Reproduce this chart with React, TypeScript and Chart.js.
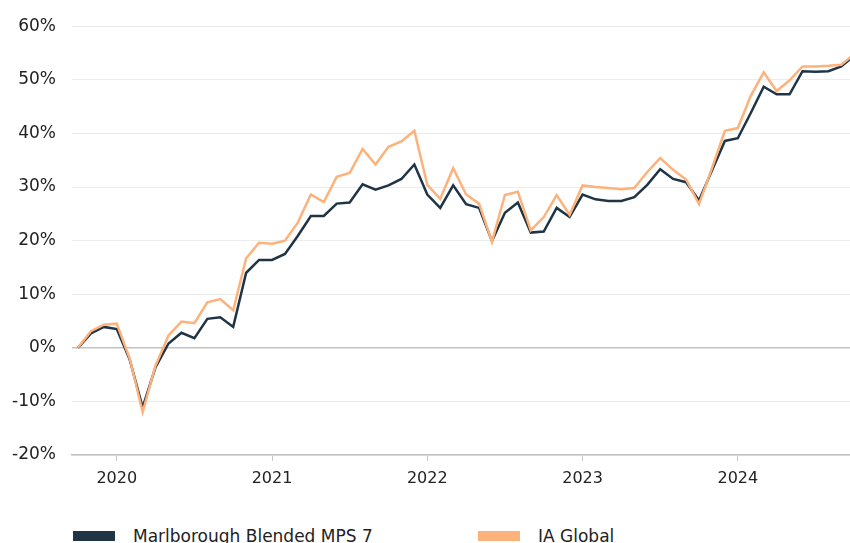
import React, { useEffect, useRef } from "react";
import { Chart, registerables } from "chart.js";

Chart.register(...registerables);

const months: string[] = [
  "2019-10", "2019-11", "2019-12",
  "2020-01", "2020-02", "2020-03", "2020-04", "2020-05", "2020-06", "2020-07", "2020-08", "2020-09", "2020-10", "2020-11", "2020-12",
  "2021-01", "2021-02", "2021-03", "2021-04", "2021-05", "2021-06", "2021-07", "2021-08", "2021-09", "2021-10", "2021-11", "2021-12",
  "2022-01", "2022-02", "2022-03", "2022-04", "2022-05", "2022-06", "2022-07", "2022-08", "2022-09", "2022-10", "2022-11", "2022-12",
  "2023-01", "2023-02", "2023-03", "2023-04", "2023-05", "2023-06", "2023-07", "2023-08", "2023-09", "2023-10", "2023-11", "2023-12",
  "2024-01", "2024-02", "2024-03", "2024-04", "2024-05", "2024-06", "2024-07", "2024-08", "2024-09", "2024-10",
];

const marlborough: number[] = [
  0, 2.7, 3.9, 3.5, -2.2, -11.1, -3.6, 0.8, 2.8, 1.8, 5.4, 5.7, 3.9, 14.0,
  16.4, 16.4, 17.5, 20.9, 24.6, 24.6, 26.9, 27.1, 30.5, 29.5, 30.3, 31.5, 34.2,
  28.6, 26.1, 30.3, 26.8, 26.1, 19.9, 25.2, 27.1, 21.5, 21.7, 26.1, 24.4,
  28.6, 27.7, 27.4, 27.4, 28.1, 30.4, 33.3, 31.5, 30.9, 27.5, 33.1, 38.6,
  39.1, 43.8, 48.7, 47.3, 47.3, 51.6, 51.5, 51.6, 52.5, 54.5,
];

const iaGlobal: number[] = [
  0, 3.1, 4.3, 4.5, -2.0, -12.0, -3.3, 2.3, 4.9, 4.6, 8.5, 9.1, 7.0, 16.7,
  19.6, 19.4, 20.0, 23.4, 28.6, 27.2, 31.9, 32.6, 37.1, 34.2, 37.5, 38.5, 40.5,
  30.4, 27.8, 33.5, 28.6, 26.9, 19.8, 28.5, 29.1, 21.9, 24.4, 28.5, 24.8,
  30.3, 30.0, 29.8, 29.6, 29.8, 32.8, 35.4, 33.2, 31.4, 26.8, 33.5, 40.5,
  41.0, 47.0, 51.4, 47.9, 49.9, 52.5, 52.5, 52.6, 52.8, 54.8,
];

const seriesNames = ["Marlborough Blended MPS 7", "IA Global"];
const seriesColors = ["#1f3546", "#fdb27c"];
const yTicks = [-20, -10, 0, 10, 20, 30, 40, 50, 60];

const FONT = "'DejaVu Sans', Verdana, sans-serif";

export default function App() {
  const ref = useRef<HTMLCanvasElement | null>(null);

  useEffect(() => {
    if (!ref.current) return;
    const toPoints = (vals: number[]) => vals.map((v, i) => ({ x: i, y: v }));
    const chart = new Chart(ref.current, {
      type: "line",
      data: {
        datasets: [
          {
            label: seriesNames[1],
            data: toPoints(iaGlobal),
            borderColor: seriesColors[1],
            backgroundColor: seriesColors[1],
            borderWidth: 2.5,
            pointRadius: 0,
            tension: 0,
          },
          {
            label: seriesNames[0],
            data: toPoints(marlborough),
            borderColor: seriesColors[0],
            backgroundColor: seriesColors[0],
            borderWidth: 2.5,
            pointRadius: 0,
            tension: 0,
          },
        ],
      },
      options: {
        animation: false,
        responsive: false,
        maintainAspectRatio: false,
        layout: { padding: { top: 23, right: 0, left: 0, bottom: 0 } },
        plugins: { legend: { display: false }, tooltip: { enabled: false } },
        scales: {
          x: {
            type: "linear",
            min: -0.46,
            max: 59.67,
            afterBuildTicks: (scale: any) => {
              scale.ticks = months
                .map((m, i) => ({ m, i }))
                .filter((o) => o.m.endsWith("-01"))
                .map((o) => ({ value: o.i }));
            },
            afterFit: (scale: any) => {
              scale.height = 45;
            },
            ticks: {
              autoSkip: false,
              maxRotation: 0,
              padding: 8,
              color: "#222",
              font: { family: FONT, size: 16 },
              callback: (v: any) => months[Math.round(Number(v))]?.slice(0, 4) ?? "",
            },
            grid: {
              drawOnChartArea: false,
              drawTicks: true,
              tickLength: 6,
              color: "#c8c8c8",
            },
            border: { display: true, color: "#c2c2c2", width: 1.5 },
          },
          y: {
            min: -20,
            max: 60,
            afterBuildTicks: (scale: any) => {
              scale.ticks = yTicks.map((v) => ({ value: v }));
            },
            afterFit: (scale: any) => {
              scale.width = 72;
            },
            ticks: {
              padding: 16,
              color: "#222",
              font: { family: FONT, size: 17 },
              callback: (v: any) => `${v}%`,
            },
            grid: {
              drawTicks: false,
              color: (ctx: any) => (ctx.tick && ctx.tick.value === 0 ? "#c2c2c2" : "#ececec"),
              lineWidth: (ctx: any) => (ctx.tick && ctx.tick.value === 0 ? 1.5 : 1),
            },
            border: { display: false },
          },
        },
      },
    });
    return () => chart.destroy();
  }, []);

  const legendItem = (i: number, left: number) => (
    <div
      key={i}
      style={{
        position: "absolute",
        left,
        top: 526,
        height: 20,
        display: "flex",
        alignItems: "center",
        whiteSpace: "nowrap",
      }}
    >
      <span style={{ display: "inline-block", width: 42, height: 10, background: seriesColors[i] }} />
      <span style={{ marginLeft: 18, fontSize: 17, color: "#222", fontFamily: FONT, lineHeight: "20px" }}>
        {seriesNames[i]}
      </span>
    </div>
  );

  return (
    <div
      style={{
        position: "fixed",
        left: 0,
        top: 0,
        width: 850,
        height: 543,
        overflow: "hidden",
        background: "#fff",
        fontFamily: FONT,
      }}
    >
      <canvas ref={ref} width={850} height={500} style={{ position: "absolute", left: 0, top: 0 }} />
      {legendItem(0, 73)}
      {legendItem(1, 478)}
    </div>
  );
}
